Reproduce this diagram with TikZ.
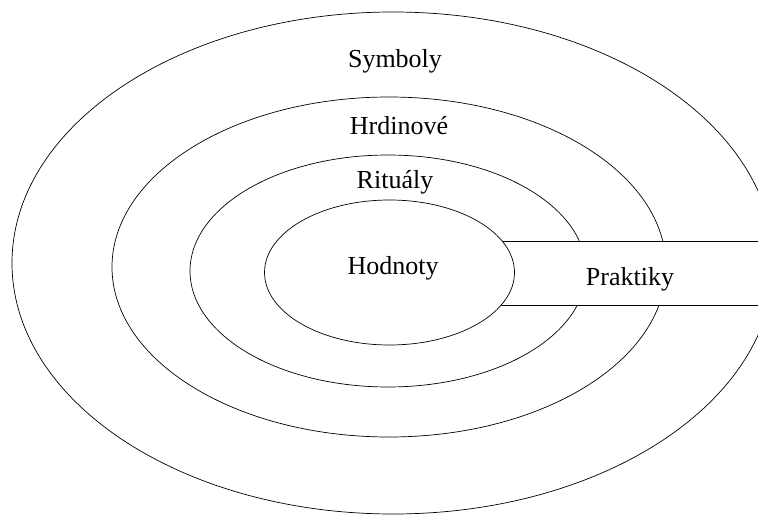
\documentclass[tikz,border=0pt]{standalone}
\usepackage{fontspec}
\setmainfont{Liberation Serif}
\usepackage{tikz}
\usetikzlibrary{
  positioning,
  shapes.geometric
}

\begin{document}
\begin{tikzpicture}[x=1pt,y=-1pt]
  \tikzset{
    ring/.style={
      ellipse,draw,fill=white,line width=0.7pt,inner sep=0pt
    },
    band/.style={
      draw,fill=white,line width=0.7pt
    },
    lbl/.style={
      anchor=base,font=\fontsize{26}{30}\selectfont,inner sep=0pt
    },
  }
  \useasboundingbox (0,0) rectangle (758,516);

  \node[ring,minimum width=762pt,minimum height=502pt] (symboly) at (393,263) {};
  \node[ring,minimum width=554pt,minimum height=340pt] (hrdinove) at (389,267) {};
  \node[ring,minimum width=396pt,minimum height=232pt] (ritualy) at (388,271) {};

  \coordinate (bandA) at (389,241);
  \coordinate (bandB) at (790,305);
  \draw[band] (bandA) rectangle (bandB);

  \node[ring,minimum width=250pt,minimum height=145pt] (hodnoty) at (389.5,272.5) {};

  \node[lbl] (tSymboly) at (395,68) {Symboly};
  \node[lbl] (tHrdinove) at (399,135) {Hrdinové};
  \node[lbl] (tRitualy) at (395,189) {Rituály};
  \node[lbl] (tHodnoty) at (393,274) {Hodnoty};
  \node[lbl] (tPraktiky) at (630,285) {Praktiky};
\end{tikzpicture}
\end{document}
